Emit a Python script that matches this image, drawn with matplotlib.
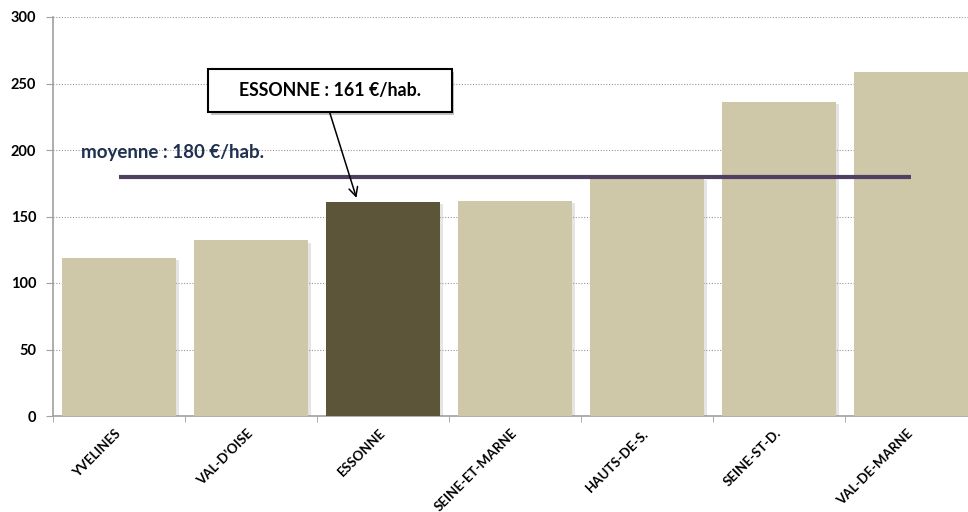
import matplotlib
matplotlib.use("Agg")
import matplotlib.pyplot as plt
from matplotlib.patches import Rectangle
import matplotlib.patheffects as pe

categories = ["YVELINES", "VAL-D'OISE", "ESSONNE", "SEINE-ET-MARNE", "HAUTS-DE-S.", "SEINE-ST-D.", "VAL-DE-MARNE"]
values = [119, 132, 161, 162, 179, 236, 259]
highlight = "ESSONNE"
average = 180
avg_label = "moyenne : 180 €/hab."
callout_label = "ESSONNE : 161 €/hab."
yticks = [0, 50, 100, 150, 200, 250, 300]

plt.rcParams['font.family'] = ['Lato', 'DejaVu Sans']

fig = plt.figure(figsize=(9.68, 5.12), dpi=100)
ax = fig.add_axes([53/968, 96/512, 924/968, 399/512])

x = list(range(len(categories)))
colors = ["#5c5539" if c == highlight else "#cfc8a8" for c in categories]
bars = ax.bar(x, values, width=0.87, color=colors, zorder=3)
for b in bars:
    b.set_path_effects([pe.SimplePatchShadow(offset=(1.5, -1.5), shadow_rgbFace='#999999', alpha=0.25), pe.Normal()])

ax.plot([x[0], x[-1]], [average, average], color="#4f3f63", lw=3, zorder=4, solid_capstyle='butt')
ax.text(-0.285, 198, avg_label, fontsize=13.5, fontweight='bold', color="#1f3050", va='center', ha='left', zorder=5)

ax.set_xlim(-0.5, len(categories) - 0.5)
ax.set_ylim(0, 300)
ax.set_yticks(yticks)
ax.set_yticklabels([str(v) for v in yticks], fontsize=10.5, fontweight='bold')
ax.yaxis.grid(True, linestyle=(0, (1, 1.5)), color="#999999", lw=0.8, zorder=0)
ax.set_axisbelow(True)

ax.set_xticks(x)
ax.set_xticklabels(categories, rotation=45, ha='right', va='center', rotation_mode='anchor', fontsize=9.5, fontweight='bold')
ax.set_xticks([i - 0.5 for i in range(len(categories) + 1)], minor=True)
ax.tick_params(axis='x', which='major', length=0, pad=11)
ax.tick_params(axis='x', which='minor', length=4, color="#a0a0a0", direction='out')
ax.tick_params(axis='y', length=5, color="#a0a0a0", pad=7)

for s in ['top', 'right']:
    ax.spines[s].set_visible(False)
for s in ['left', 'bottom']:
    ax.spines[s].set_color("#a0a0a0")
    ax.spines[s].set_linewidth(1.2)

# callout box
bx0, bx1, by0, by1 = 0.678, 2.519, 228.6, 261.0
rect = Rectangle((bx0, by0), bx1 - bx0, by1 - by0, facecolor='white', edgecolor='black', lw=1.5, zorder=6,
                 path_effects=[pe.SimplePatchShadow(offset=(2, -2), shadow_rgbFace='#888888', alpha=0.5), pe.Normal()])
ax.add_patch(rect)
ax.text((bx0 + bx1) / 2, (by0 + by1) / 2, callout_label, fontsize=12.8, fontweight='bold', ha='center', va='center', zorder=7)
ax.annotate("", xy=(1.799, 164), xytext=(1.595, by0),
            arrowprops=dict(arrowstyle='->', color='black', lw=1.1, mutation_scale=16, shrinkA=0, shrinkB=0), zorder=7)

fig.savefig("out.png", dpi=100)
